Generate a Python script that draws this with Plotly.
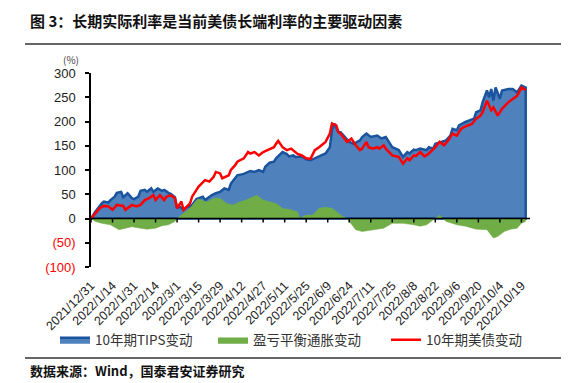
import plotly.graph_objects as go

# ---- data (trading-day index -> change in bp) ----
tick_labels = ["2021/12/31", "2022/1/14", "2022/1/31", "2022/2/14", "2022/3/1", "2022/3/15",
               "2022/3/29", "2022/4/12", "2022/4/27", "2022/5/11", "2022/5/25", "2022/6/9",
               "2022/6/24", "2022/7/11", "2022/7/25", "2022/8/8", "2022/8/22", "2022/9/6",
               "2022/9/20", "2022/10/4", "2022/10/19"]
tick_pos = [0, 10, 20, 30, 40, 50, 60, 70, 80, 90, 100, 110, 120, 130, 140, 150, 160, 170, 180, 190, 200]

tips_idx = [0, 2, 5, 6, 8, 9, 11, 12, 14, 15, 17, 19, 20, 22, 23, 25, 26, 28, 29, 31,
            33, 34, 36, 37, 39, 40, 41, 43, 44, 47, 49, 52, 53, 56, 58, 60, 62, 64, 65, 67,
            68, 71, 73, 74, 76, 78, 80, 81, 83, 85, 86, 88, 89, 91, 92, 94, 95, 98, 100, 102,
            105, 107, 109, 111, 112, 113, 115, 116, 118, 120, 122, 125, 126, 128, 130, 133, 135, 137, 139, 140,
            143, 145, 147, 148, 150, 151, 153, 156, 157, 159, 160, 163, 165, 167, 168, 170, 171, 174, 176, 178,
            179, 181, 182, 184, 185, 186, 187, 188, 190, 191, 194, 196, 198, 200, 202]
tips_val = [0, 14, 31, 35, 33, 38, 45, 53, 55, 44, 52, 42, 40, 45, 57, 59, 55, 62, 55, 62,
            57, 59, 53, 51, 44, 21, 25, 18, 22, 28, 40, 45, 38, 48, 52, 55, 62, 59, 72, 83,
            89, 92, 96, 98, 96, 100, 96, 107, 115, 117, 124, 134, 137, 133, 128, 130, 127, 128, 122, 120,
            127, 130, 134, 147, 182, 196, 178, 178, 168, 158, 154, 161, 168, 175, 168, 171, 165, 168, 154, 147,
            141, 127, 137, 134, 142, 141, 144, 141, 147, 144, 154, 158, 161, 171, 185, 182, 192, 199, 202, 206,
            219, 223, 240, 264, 250, 267, 243, 270, 247, 264, 267, 267, 260, 274, 270]

bei_idx = [0, 2, 5, 9, 13, 16, 19, 23, 26, 30, 33, 36, 39, 40, 43, 46, 49, 50, 54, 57,
           60, 63, 66, 69, 72, 75, 77, 80, 83, 86, 89, 93, 96, 97, 100, 103, 106, 109, 112, 115,
           117, 119, 123, 126, 131, 136, 140, 145, 150, 153, 156, 159, 162, 165, 170, 174, 179, 184, 187, 189,
           192, 195, 198, 200, 202]
bei_val = [0, -6, -10, -13, -23, -20, -17, -20, -22, -20, -15, -13, -6, 0, 10, 21, 38, 40, 34, 42,
           42, 31, 28, 34, 38, 45, 48, 38, 34, 31, 21, 18, 14, 1, 7, 7, 21, 23, 21, 11,
           4, 0, -23, -27, -23, -20, -10, -10, -13, -16, -13, -3, 7, -6, -13, -16, -22, -23, -40, -37,
           -27, -22, -20, -10, -6]

ust_idx = [0, 2, 4, 6, 8, 10, 12, 15, 16, 19, 21, 23, 25, 27, 29, 30, 32, 34, 35, 37,
           39, 40, 42, 43, 46, 47, 49, 50, 53, 55, 57, 58, 60, 61, 64, 65, 67, 68, 71, 73,
           74, 76, 78, 80, 82, 85, 86, 87, 89, 91, 93, 95, 96, 98, 100, 102, 104, 106, 108, 109,
           111, 112, 114, 115, 116, 118, 119, 121, 123, 125, 126, 128, 129, 131, 133, 134, 136, 137, 139, 140,
           143, 145, 147, 148, 150, 151, 153, 155, 157, 160, 162, 164, 166, 168, 170, 172, 174, 177, 179, 181,
           182, 184, 186, 187, 189, 191, 194, 196, 198, 200, 202]
ust_val = [0, 11, 21, 26, 25, 18, 28, 26, 18, 28, 25, 28, 38, 42, 48, 38, 48, 38, 45, 48,
           42, 21, 35, 18, 31, 45, 60, 66, 79, 76, 86, 96, 93, 83, 89, 100, 110, 117, 124, 137,
           134, 137, 130, 137, 141, 147, 154, 160, 147, 141, 144, 137, 133, 130, 124, 123, 141, 147, 154, 158,
           175, 196, 192, 178, 175, 163, 158, 165, 151, 141, 144, 158, 147, 144, 147, 144, 151, 144, 134, 130,
           127, 113, 124, 120, 130, 129, 137, 128, 134, 147, 158, 151, 161, 175, 171, 185, 190, 195, 206, 212,
           219, 243, 223, 229, 212, 226, 240, 247, 253, 270, 265]

y_ticks = [-100, -50, 0, 50, 100, 150, 200, 250, 300]

# ---- layout geometry (page pixels; the page body adds an 8px offset) ----
OFF = 8
W, H = 587 - OFF, 383 - OFF
PLOT_L, PLOT_R, PLOT_T, PLOT_B = 91, 530, 73, 267
ML, MT = PLOT_L - OFF, PLOT_T - OFF
MR, MB = W - (PLOT_R - OFF), H - (PLOT_B - OFF)
PW, PH = PLOT_R - PLOT_L, PLOT_B - PLOT_T
YMIN, YMAX = -100, 300
XMAX = 204


def px(x):
    return (x - PLOT_L) / PW


def py(y):
    return (PLOT_B - y) / PH


def ylab(v):
    if v < 0:
        return "<span style='color:#FF0000'>(%d)</span>" % (-v)
    return str(v)


fig = go.Figure()

fig.add_trace(go.Scatter(
    x=tips_idx + [tips_idx[-1], tips_idx[0]], y=tips_val + [0, 0],
    mode="lines", fill="toself", fillcolor="#4F81BD",
    line=dict(color="#1A539E", width=2.5),
    name="10年期TIPS变动", legend="legend"))

fig.add_trace(go.Scatter(
    x=bei_idx, y=bei_val, mode="lines", fill="tozeroy", fillcolor="#70AD47",
    line=dict(color="#70AD47", width=0.5),
    name="盈亏平衡通胀变动", legend="legend2"))

fig.add_trace(go.Scatter(
    x=ust_idx, y=ust_val, mode="lines",
    line=dict(color="#FF0000", width=2.5),
    name="10年期美债变动", legend="legend3"))

leg_font = dict(family="Noto Sans CJK SC", size=13.5, color="#333")


def leg(xpix):
    return dict(orientation="h", x=px(xpix), y=py(340), xanchor="left", yanchor="middle",
                font=leg_font, bgcolor="rgba(0,0,0,0)")


fig.update_layout(
    width=W, height=H,
    margin=dict(l=ML, r=MR, t=MT, b=MB, autoexpand=False),
    paper_bgcolor="white", plot_bgcolor="white",
    font=dict(family="Arial, Liberation Sans, sans-serif", color="#222"),
    xaxis=dict(range=[0, XMAX], showline=False, ticks="",
               tickvals=tick_pos, ticktext=tick_labels, tickangle=-45, ticklabelstandoff=8,
               tickfont=dict(size=12.5, color="#222"),
               showgrid=False, zeroline=False, automargin=False),
    yaxis=dict(range=[YMIN, YMAX], showline=True, linecolor="black", linewidth=1.5,
               ticks="outside", ticklen=4, tickwidth=1.5, tickcolor="black",
               tickvals=y_ticks, ticktext=[ylab(v) for v in y_ticks], ticklabelstandoff=7,
               tickfont=dict(size=13, color="#222"),
               showgrid=False, zeroline=False, automargin=False),
    showlegend=True,
    legend=leg(55),
    legend2=leg(213),
    legend3=leg(386),
)

# horizontal category axis crossing at zero, with outward ticks
tick_units = 4 * (YMAX - YMIN) / PH
fig.add_shape(type="line", xref="x", yref="y", x0=0, x1=XMAX, y0=0, y1=0,
              line=dict(color="black", width=1.5), layer="above")
for t in tick_pos:
    fig.add_shape(type="line", xref="x", yref="y", x0=t, x1=t, y0=0, y1=-tick_units,
                  line=dict(color="black", width=1.5), layer="above")

fig.add_annotation(text="<b>图 3：长期实际利率是当前美债长端利率的主要驱动因素</b>",
                   xref="paper", yref="paper", x=px(28), y=py(20), xanchor="left", yanchor="middle",
                   showarrow=False, font=dict(family="Noto Sans CJK SC", size=15, color="#111"))
fig.add_annotation(text="(%)", xref="paper", yref="paper", x=px(71), y=py(59),
                   xanchor="center", yanchor="middle", showarrow=False,
                   font=dict(family="Noto Sans CJK SC", size=10, color="#444"))
fig.add_annotation(text="<b>数据来源：Wind，国泰君安证券研究</b>",
                   xref="paper", yref="paper", x=px(28), y=py(370), xanchor="left", yanchor="middle",
                   showarrow=False, font=dict(family="Noto Sans CJK SC", size=13, color="#111"))

for yy in (44, 358):
    fig.add_shape(type="line", xref="paper", yref="paper", x0=px(25), x1=px(561), y0=py(yy), y1=py(yy),
                  line=dict(color="#333", width=1.5))

fig.write_html("out.html")
